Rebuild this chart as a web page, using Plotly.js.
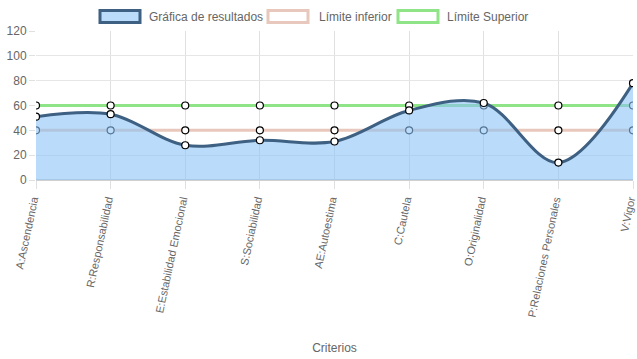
<!DOCTYPE html>
<html><head><meta charset="utf-8">
<script src="https://cdn.plot.ly/plotly-3.0.1.min.js"></script>
<style>html,body{margin:0;padding:0;background:#fff}#c{width:637px;height:359px}</style>
</head><body><div id="c"></div>
<script>
var categories = ["A:Ascendencia","R:Responsabilidad","E:Estabilidad Emocional","S:Sociabilidad","AE:Autoestima","C:Cautela","O:Originalidad","P:Relaciones Personales","V:Vigor"];
var resultados = [51, 53, 28, 32, 31, 56, 62, 14, 78];
var limiteInferior = [40, 40, 40, 40, 40, 40, 40, 40, 40];
var limiteSuperior = [60, 60, 60, 60, 60, 60, 60, 60, 60];
var yTicks = [0, 20, 40, 60, 80, 100, 120];
var seriesNames = ['Gráfica de resultados', 'Límite inferior', 'Límite Superior'];

var colRes = 'rgb(62,96,130)', fillRes = 'rgba(140,195,245,0.6)';
var colInf = 'rgb(232,200,188)', colSup = 'rgb(144,228,136)';

var mk = {size: 7, color: '#fff', line: {color: '#000', width: 1.2}};
var traces = [
  {x: categories, y: limiteInferior, name: seriesNames[1], type: 'scatter', mode: 'lines+markers',
   line: {color: colInf, width: 3}, marker: mk},
  {x: categories, y: limiteSuperior, name: seriesNames[2], type: 'scatter', mode: 'lines+markers',
   line: {color: colSup, width: 3}, marker: mk},
  {x: categories, y: resultados, name: seriesNames[0], type: 'scatter', mode: 'lines+markers',
   fill: 'tozeroy', fillcolor: fillRes,
   line: {color: colRes, width: 3, shape: 'spline', smoothing: 1}, marker: mk}
];

// custom Chart.js-like legend (boxes + labels), positioned in pixels
var L = 36, T = 31, W = 597, H = 149;
function px(x) { return (x - L) / W; }
function py(y) { return (T + H - y) / H; }
var legendBoxes = [[100, 140, colRes, fillRes], [268, 308, colInf, '#fff'], [398, 438, colSup, '#fff']];
var legendTextX = [147, 317, 445];
var shapes = legendBoxes.map(function (b) {
  return {type: 'rect', xref: 'paper', yref: 'paper', x0: px(b[0]), x1: px(b[1]), y0: py(22.5), y1: py(10.5),
          line: {color: b[2], width: 3}, fillcolor: b[3]};
});
var annotations = seriesNames.map(function (n, i) {
  return {text: n, xref: 'paper', yref: 'paper', x: px(legendTextX[i]), y: py(16.5), xanchor: 'left', yanchor: 'middle',
          showarrow: false, font: {size: 12, color: '#666'}};
});

var layout = {
  width: 637, height: 359,
  margin: {l: L, r: 637 - L - W, t: T, b: 359 - T - H},
  paper_bgcolor: '#fff', plot_bgcolor: '#fff',
  font: {family: 'Liberation Sans, Arial, sans-serif', size: 12, color: '#666'},
  showlegend: false,
  shapes: shapes, annotations: annotations,
  xaxis: {type: 'category', range: [0, 8], showgrid: true, gridcolor: '#e0e0e0', gridwidth: 1,
          tickangle: -78, tickfont: {size: 11, color: '#666'}, ticks: 'outside', ticklen: 8, tickcolor: '#e0e0e0',
          ticklabelshift: -3,
          showline: false, zeroline: false, automargin: false,
          title: {text: 'Criterios', font: {size: 12, color: '#666'}, standoff: 26}},
  yaxis: {range: [0, 120], tickvals: yTicks, showgrid: true, gridcolor: '#e6e6e6', zeroline: true, zerolinecolor: '#d0d0d0', zerolinewidth: 2,
          tickfont: {size: 12, color: '#666'}, ticks: 'outside', ticklen: 6, tickcolor: '#e0e0e0', automargin: false}
};
Plotly.newPlot('c', traces, layout, {displayModeBar: false});
</script></body></html>
